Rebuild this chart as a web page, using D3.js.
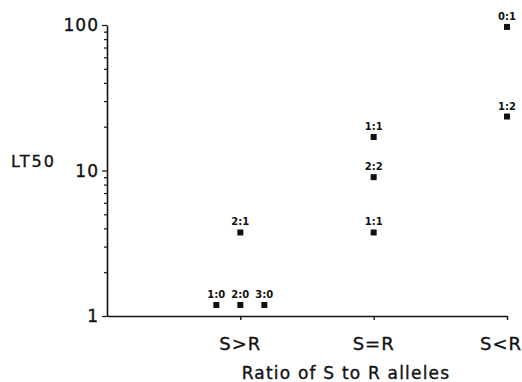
<!DOCTYPE html>
<html>
<head>
<meta charset="utf-8">
<script src="https://cdn.jsdelivr.net/npm/d3@7"></script>
<style>
  body { margin: 0; background: #fff; }
  text { font-family: "DejaVu Sans", sans-serif; fill: #111; }
  .heavy { stroke: #111; stroke-width: 0.35px; }
</style>
</head>
<body>
<div id="chart"></div>
<script>
// set width and height of svg
var svgWidth = 522;
var svgHeight = 382;

// data
var categories = ["S>R", "S=R", "S<R"];
var pointGroup = [0, 0, 0, 0, 1, 1, 1, 2, 2];
var pointOffset = [-0.18, 0, 0.18, 0, 0, 0, 0, 0, 0];
var pointLabel = ["1:0", "2:0", "3:0", "2:1", "1:1", "2:2", "1:1", "0:1", "1:2"];
var pointValue = [1.19, 1.19, 1.19, 3.75, 3.75, 9.0, 17, 97, 23.5];
var yTicks = [1, 10, 100];

var points = pointValue.map(function(v, i) {
  return { g: pointGroup[i], off: pointOffset[i], label: pointLabel[i], value: v };
});

var svg = d3.select("#chart")
  .append("svg")
  .attr("width", svgWidth)
  .attr("height", svgHeight);

// x: category index 1..3 on a linear scale, axis starts at 0
var xScale = d3.scaleLinear()
  .domain([0, categories.length])
  .range([107, 507]);

var yScale = d3.scaleLog()
  .domain([1, 100])
  .range([316, 25]);

// y axis with minor ticks
var leftAxis = d3.axisLeft(yScale)
  .tickValues(d3.range(1, 101).filter(function(d) {
    var p = Math.pow(10, Math.floor(Math.log10(d) + 1e-9));
    return d % p === 0;
  }))
  .tickFormat("")
  .tickSizeInner(3)
  .tickSizeOuter(0);

var yAxis = svg.append("g")
  .attr("transform", "translate(107,0)")
  .call(leftAxis);

yAxis.select(".domain").attr("stroke", "#111").attr("stroke-width", 1.6);
yAxis.selectAll(".tick line").attr("stroke", "#111").attr("stroke-width", 1.2);
yAxis.selectAll(".tick")
  .filter(function(d) { return yTicks.indexOf(d) >= 0; })
  .select("line").attr("x2", -5);

// y tick labels
svg.append("g")
  .selectAll("text")
  .data(yTicks)
  .enter()
  .append("text")
  .classed("heavy", true)
  .attr("x", 99)
  .attr("y", function(d) { return yScale(d) + 6; })
  .attr("text-anchor", "end")
  .attr("font-size", "17px")
  .attr("letter-spacing", "1px")
  .text(function(d) { return d; });

// x axis
var bottomAxis = d3.axisBottom(xScale)
  .tickValues([1, 2, 3])
  .tickFormat("")
  .tickSizeInner(4)
  .tickSizeOuter(0);

var xAxis = svg.append("g")
  .attr("transform", "translate(0,316)")
  .call(bottomAxis);

xAxis.select(".domain").attr("stroke", "#111").attr("stroke-width", 1.6);
xAxis.selectAll(".tick line").attr("stroke", "#111").attr("stroke-width", 1.4);

// category labels
svg.append("g")
  .selectAll("text")
  .data(categories)
  .enter()
  .append("text")
  .classed("heavy", true)
  .attr("x", function(d, i) { return xScale(i + 1); })
  .attr("y", 350)
  .attr("text-anchor", function(d, i) { return i === 2 ? "end" : "middle"; })
  .attr("dx", function(d, i) { return i === 2 ? 15 : 0; })
  .attr("font-size", "18px")
  .attr("letter-spacing", "1px")
  .text(function(d) { return d; });

// axis titles
svg.append("text")
  .classed("heavy", true)
  .attr("x", 346)
  .attr("y", 379)
  .attr("text-anchor", "middle")
  .attr("font-size", "17px")
  .attr("letter-spacing", "1.2px")
  .text("Ratio of S to R alleles");

svg.append("text")
  .classed("heavy", true)
  .attr("x", 11)
  .attr("y", 167)
  .attr("font-size", "16px")
  .attr("letter-spacing", "2px")
  .text("LT50");

// points
svg.append("g")
  .selectAll("rect")
  .data(points)
  .enter()
  .append("rect")
  .attr("x", function(d) { return xScale(d.g + 1 + d.off) - 3; })
  .attr("y", function(d) { return yScale(d.value) - 3; })
  .attr("width", 6)
  .attr("height", 6)
  .attr("fill", "#111");

// point labels
svg.append("g")
  .selectAll("text")
  .data(points)
  .enter()
  .append("text")
  .attr("x", function(d) { return xScale(d.g + 1 + d.off); })
  .attr("y", function(d) { return yScale(d.value) - 7; })
  .attr("text-anchor", "middle")
  .attr("font-size", "10px")
  .attr("font-weight", "bold")
  .text(function(d) { return d.label; });
</script>
</body>
</html>
